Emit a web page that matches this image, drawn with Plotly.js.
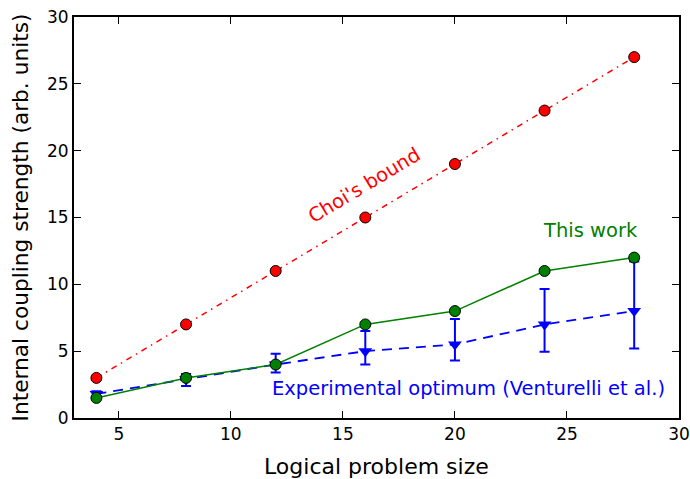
<!DOCTYPE html>
<html><head><meta charset="utf-8">
<script src="https://cdn.plot.ly/plotly-3.0.1.min.js"></script>
<style>html,body{margin:0;padding:0;background:#fff}#chart{width:690px;height:479px}</style>
</head><body><div id="chart"></div>
<script>
const sizes = [4, 8, 12, 16, 20, 24, 28];
const choiBound = [3, 7, 11, 15, 19, 23, 27];
const thisWork = [1.5, 3, 4, 7, 8, 11, 12];
const experimental = [1.8, 2.9, 4.0, 5.0, 5.5, 7.0, 8.0];
const expErrUpper = [0.2, 0.4, 0.8, 1.5, 1.9, 2.65, 3.7];
const expErrLower = [0.2, 0.5, 0.6, 1.0, 1.2, 2.05, 2.8];
const xTitle = 'Logical problem size';
const yTitle = 'Internal coupling strength (arb. units)';

const font = "DejaVu Sans, sans-serif";
const traces = [
  {x: sizes, y: choiBound, mode: 'lines+markers', name: "Choi's bound",
   line: {color: 'red', width: 1.5, dash: '6px,5px,1.5px,5px'},
   marker: {symbol: 'circle', size: 11, color: 'red', line: {color: 'black', width: 1}}},
  {x: sizes, y: experimental, mode: 'lines+markers', name: 'Experimental',
   line: {color: 'blue', width: 1.8, dash: '10px,7px'},
   marker: {symbol: 'triangle-down', size: 12, color: 'blue', line: {color: 'blue', width: 0}},
   error_y: {type: 'data', symmetric: false, array: expErrUpper, arrayminus: expErrLower,
             color: 'blue', thickness: 2, width: 5}},
  {x: sizes, y: thisWork, mode: 'lines+markers', name: 'This work',
   line: {color: 'green', width: 1.5},
   marker: {symbol: 'circle', size: 11, color: 'green', line: {color: 'black', width: 1}}}
];
const axisCommon = {showgrid: false, zeroline: false, showline: true, mirror: 'ticks',
  linecolor: 'black', linewidth: 2, ticks: 'inside', ticklen: 7, tickwidth: 1, tickcolor: 'black',
  tickfont: {family: font, size: 17, color: 'black'}};
const layout = {
  width: 690, height: 479,
  margin: {l: 74, r: 11, t: 17, b: 61},
  paper_bgcolor: 'white', plot_bgcolor: 'white',
  showlegend: false,
  font: {family: font},
  xaxis: Object.assign({}, axisCommon, {range: [3, 30], tickvals: [5, 10, 15, 20, 25, 30]}),
  yaxis: Object.assign({}, axisCommon, {range: [0, 30], tickvals: [0, 5, 10, 15, 20, 25, 30],
    title: {text: yTitle, font: {family: font, size: 21.7, color: 'black'}, standoff: 12}}),
  annotations: [
    {x: 0.5, y: 0, xref: 'paper', yref: 'paper', text: xTitle, showarrow: false,
     xanchor: 'center', yanchor: 'middle', yshift: -48,
     font: {family: font, size: 22, color: 'black'}},
    {x: 15.95, y: 17.4, xref: 'x', yref: 'y', text: "Choi's bound", showarrow: false, textangle: -31,
     font: {family: font, size: 19.5, color: 'red'}},
    {x: 26.04, y: 14.06, xref: 'x', yref: 'y', text: 'This work', showarrow: false,
     font: {family: font, size: 19.5, color: 'green'}},
    {x: 20.59, y: 2.24, xref: 'x', yref: 'y', text: 'Experimental optimum (Venturelli et al.)', showarrow: false,
     font: {family: font, size: 19.5, color: 'blue'}}
  ]
};
Plotly.newPlot('chart', traces, layout, {displayModeBar: false, staticPlot: true});
</script></body></html>
